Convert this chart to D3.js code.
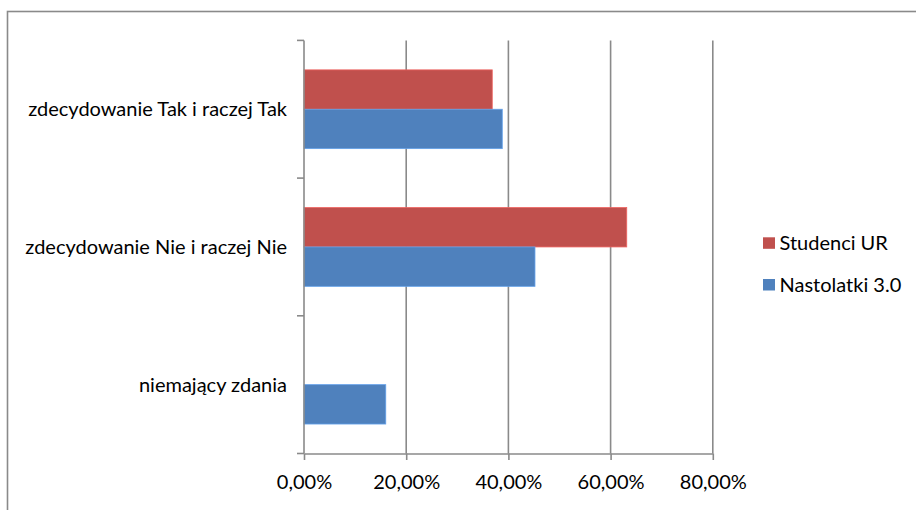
<!DOCTYPE html>
<head>
	<meta charset="utf-8">
	<script src="https://d3js.org/d3.v7.min.js"></script>
	<style>
		body { margin: 0; background: #fff; }
		text { font-family: Lato, "Liberation Sans", sans-serif; fill: #000; }
	</style>
</head>
<body>
	<svg id="chart" width="916" height="510"></svg>
	<script>

	// data
	var categories = ["zdecydowanie Tak i raczej Tak", "zdecydowanie Nie i raczej Nie", "niemający zdania"];
	var seriesNames = ["Studenci UR", "Nastolatki 3.0"];
	var studenciUR = [0.3684, 0.6316, 0];
	var nastolatki = [0.388, 0.452, 0.160];
	var tickValues = [0, 0.2, 0.4, 0.6, 0.8];
	var colors = ["#C0504D", "#4F81BD"];

	var svg = d3.select("#chart");

	// outer frame (cut off at right and bottom)
	svg.append("rect")
		.attr("x", 7.5).attr("y", 11.5)
		.attr("width", 1000).attr("height", 600)
		.attr("fill", "none").attr("stroke", "#8a8a8a").attr("stroke-width", 1.6);

	var x = d3.scaleLinear().domain([0, 0.8]).range([304, 712.8]);
	var y = d3.scaleBand().domain(categories).range([40.4, 453.5])
		.paddingInner(0.428).paddingOuter(0.214);
	var ySub = d3.scaleBand().domain(seriesNames).range([0, y.bandwidth()]);

	var fmt = function(v) { return d3.format(".2f")(v * 100).replace(".", ",") + "%"; };

	// gridlines
	svg.append("g").selectAll("line")
		.data(tickValues.slice(1))
		.enter().append("line")
		.attr("x1", function(d) { return x(d); }).attr("x2", function(d) { return x(d); })
		.attr("y1", 40.4).attr("y2", 453.5)
		.attr("stroke", "#8a8a8a").attr("stroke-width", 1.6);

	// bars
	var series = [studenciUR, nastolatki];
	series.forEach(function(vals, i) {
		svg.append("g").selectAll("rect")
			.data(vals)
			.enter().append("rect")
			.attr("x", x(0))
			.attr("y", function(d, j) { return y(categories[j]) + ySub(seriesNames[i]); })
			.attr("width", function(d) { return x(d) - x(0); })
			.attr("height", ySub.bandwidth())
			.attr("fill", colors[i])
			.attr("stroke", function(d) { return d > 0 ? d3.color(colors[i]).brighter(0.6) : "none"; })
			.attr("stroke-width", 0.8);
	});

	// x axis
	var xAxis = svg.append("g")
		.attr("transform", "translate(0,453.5)")
		.call(d3.axisBottom(x).tickValues(tickValues).tickFormat(fmt).tickSize(6.5).tickSizeOuter(0));
	xAxis.select(".domain").attr("stroke", "#8a8a8a").attr("stroke-width", 1.6);
	xAxis.selectAll(".tick line").attr("stroke", "#8a8a8a").attr("stroke-width", 1.6);
	xAxis.selectAll(".tick text")
		.attr("y", 28.5).attr("dy", "0.35em")
		.style("font-size", "20px").style("font-family", "Lato, sans-serif").attr("fill", "#000");

	// y axis line and category boundary ticks
	svg.append("line")
		.attr("x1", x(0)).attr("x2", x(0)).attr("y1", 40.4).attr("y2", 453.5)
		.attr("stroke", "#8a8a8a").attr("stroke-width", 1.6);
	var step = y.step();
	var bounds = [0, 1, 2, 3].map(function(k) { return 40.4 + k * step; });
	svg.append("g").selectAll("line")
		.data(bounds)
		.enter().append("line")
		.attr("x1", x(0) - 7).attr("x2", x(0))
		.attr("y1", function(d) { return d; }).attr("y2", function(d) { return d; })
		.attr("stroke", "#8a8a8a").attr("stroke-width", 1.6);

	// category labels
	svg.append("g").selectAll("text")
		.data(categories)
		.enter().append("text")
		.attr("x", 287)
		.attr("y", function(d) { return y(d) + y.bandwidth() / 2; })
		.attr("dy", "0.35em")
		.attr("text-anchor", "end")
		.style("font-size", "20px")
		.text(function(d) { return d; });

	// legend
	var legend = svg.append("g").selectAll("g")
		.data(seriesNames)
		.enter().append("g")
		.attr("transform", function(d, i) { return "translate(763," + (237.3 + i * 41.7) + ")"; });
	legend.append("rect")
		.attr("width", 12).attr("height", 11.5)
		.attr("fill", function(d, i) { return colors[i]; });
	legend.append("text")
		.attr("x", 16.5).attr("y", 6).attr("dy", "0.35em")
		.style("font-size", "20px")
		.text(function(d) { return d; });

</script>
</body>
</html>
